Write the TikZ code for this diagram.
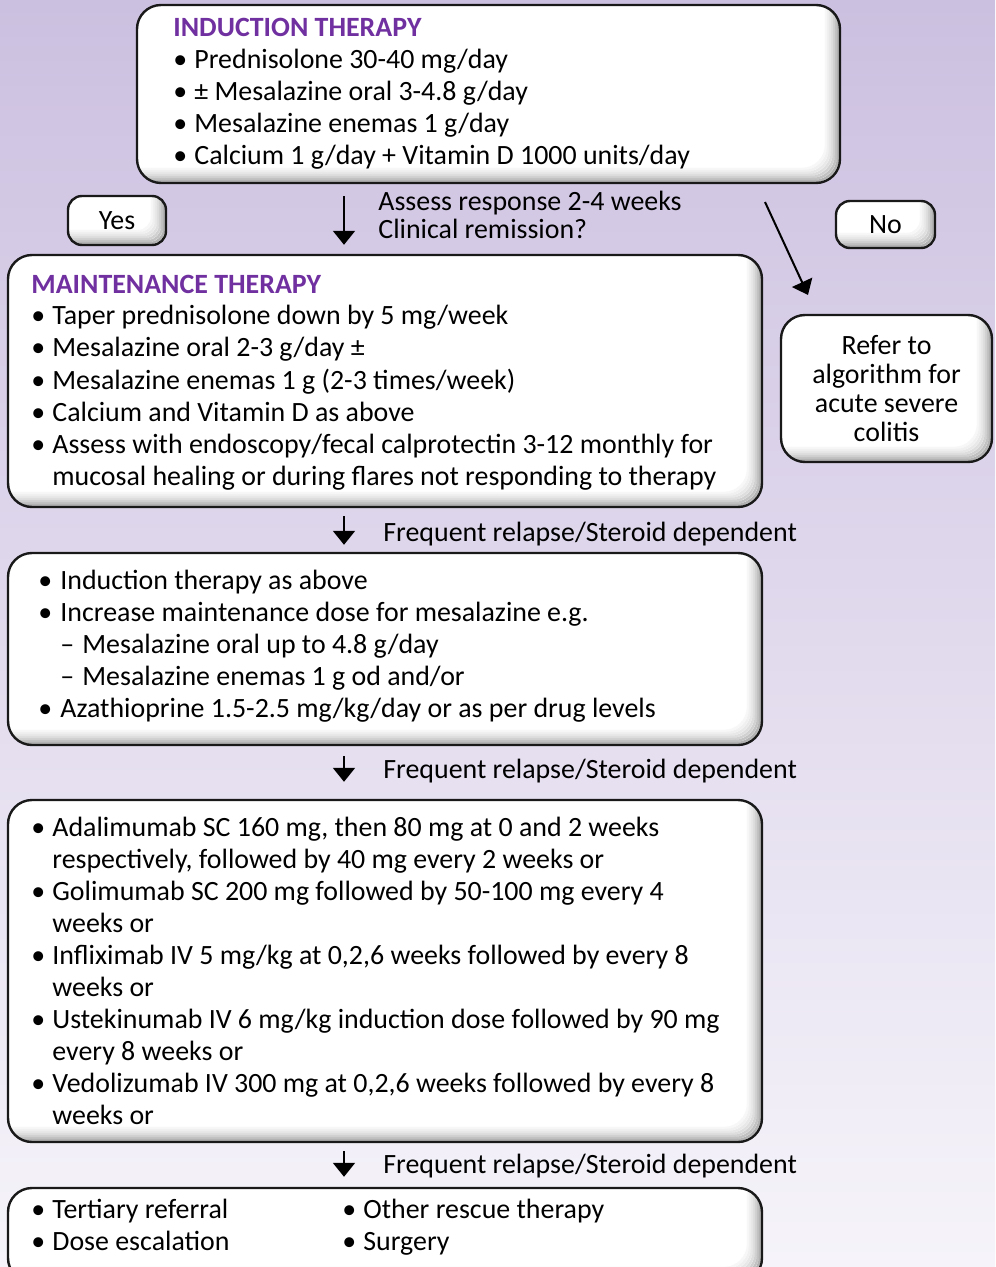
\documentclass[tikz,border=0pt]{standalone}
\usepackage{fontspec}
\setmainfont{Carlito}
\usetikzlibrary{fit,arrows.meta}

\definecolor{headpurple}{RGB}{112,48,160}
\definecolor{bgtop}{RGB}{204,192,224}
\definecolor{bgbottom}{RGB}{246,244,250}
\newcommand{\bul}{\textbullet}
\newcommand{\subdash}{\makebox[11pt][l]{--}}

\begin{document}
\begin{tikzpicture}[x=0.5pt,y=-0.5pt,
  bevel/.style={path picture={
    \foreach \k/\c in {7/3,6/6,5/9,4/13,3/18,2/24,1/30}
      \draw[black!\c,line width=1.2pt]
        ([xshift=-\k pt]path picture bounding box.north east)
        -- ([xshift=-\k pt,yshift=\k pt]path picture bounding box.south east)
        -- ([yshift=\k pt]path picture bounding box.south west);}},
  box/.style={draw=black!90,line width=1.2pt,fill=white,rounded corners=12pt,inner sep=0pt,bevel},
  tag/.style={draw=black!90,line width=1.2pt,fill=white,rounded corners=7pt,inner sep=0pt,bevel,
    font=\fontsize{13.95}{16}\selectfont},
  txt/.style={inner sep=0pt,anchor=base west,font=\fontsize{13.95}{16}\selectfont},
  arr/.style={-{Triangle[length=7pt,width=11pt]},line width=1pt}]
\shade[top color=bgtop,bottom color=bgbottom] (0,0) rectangle (995,1267);
\useasboundingbox (0,0) rectangle (995,1267);
\clip (0,0) rectangle (995,1267);

% boxes
\node[box,fit={(137,5)(840,183)}] (induct) {};
\node[box,fit={(8,255)(762,507)}] (maint) {};
\node[box,fit={(8,553)(762,745)}] (escal) {};
\node[box,fit={(8,800)(762,1142)}] (biolog) {};
\node[box,fit={(8,1188)(762,1282)}] (rescue) {};
\node[tag,minimum width=49pt,minimum height=24.5pt] (yes) at (117,220.5) {Yes};
\node[tag,minimum width=49.5pt,minimum height=23.5pt] (no) at (885.5,224.5) {No};
\node[box,minimum width=105.5pt,minimum height=73.5pt,align=center,
  font=\fontsize{13.95}{14.4}\selectfont] (refer) at (886.5,388.5)
  {Refer to\\algorithm for\\acute severe\\colitis};

% texts
\node[txt] (inducttext) at (173,37) {\begin{tabular}[t]{@{}p{10.5pt}@{}l@{}}
\multicolumn{2}{@{}l@{}}{\textcolor{headpurple}{\textbf{INDUCTION THERAPY}}}\\
\bul & Prednisolone 30-40 mg/day\\
\bul & ± Mesalazine oral 3-4.8 g/day\\
\bul & Mesalazine enemas 1 g/day\\
\bul & Calcium 1 g/day + Vitamin D 1000 units/day
\end{tabular}};
\node[txt,font=\fontsize{13.95}{14}\selectfont] (assess) at (378,211)
  {\begin{tabular}[t]{@{}l@{}}Assess response 2-4 weeks\\Clinical remission?\end{tabular}};
\node[txt] (mainttext) at (31,293) {\begin{tabular}[t]{@{}p{10.5pt}@{}l@{}}
\multicolumn{2}{@{}l@{}}{\textcolor{headpurple}{\textbf{MAINTENANCE THERAPY}}}\\
\bul & Taper prednisolone down by 5 mg/week\\
\bul & Mesalazine oral 2-3 g/day ±\\
\bul & Mesalazine enemas 1 g (2-3 times/week)\\
\bul & Calcium and Vitamin D as above\\
\bul & Assess with endoscopy/fecal calprotectin 3-12 monthly for\\
 & mucosal healing or during flares not responding to therapy
\end{tabular}};
\node[txt] (escaltext) at (38,589) {\begin{tabular}[t]{@{}p{11pt}@{}l@{}}
\bul & Induction therapy as above\\
\bul & Increase maintenance dose for mesalazine e.g.\\
 & \subdash Mesalazine oral up to 4.8 g/day\\
 & \subdash Mesalazine enemas 1 g od and/or\\
\bul & Azathioprine 1.5-2.5 mg/kg/day or as per drug levels
\end{tabular}};
\node[txt] (biologtext) at (31,836) {\begin{tabular}[t]{@{}p{10.5pt}@{}l@{}}
\bul & Adalimumab SC 160 mg, then 80 mg at 0 and 2 weeks\\
 & respectively, followed by 40 mg every 2 weeks or\\
\bul & Golimumab SC 200 mg followed by 50-100 mg every 4\\
 & weeks or\\
\bul & Infliximab IV 5 mg/kg at 0,2,6 weeks followed by every 8\\
 & weeks or\\
\bul & Ustekinumab IV 6 mg/kg induction dose followed by 90 mg\\
 & every 8 weeks or\\
\bul & Vedolizumab IV 300 mg at 0,2,6 weeks followed by every 8\\
 & weeks or
\end{tabular}};
\node[txt] (rescuetext) at (31,1218) {\begin{tabular}[t]{@{}p{10.5pt}@{}l@{}}
\bul & Tertiary referral\\
\bul & Dose escalation
\end{tabular}};
\node[txt] (rescuetext2) at (342,1218) {\begin{tabular}[t]{@{}p{10.5pt}@{}l@{}}
\bul & Other rescue therapy\\
\bul & Surgery
\end{tabular}};
\node[txt] (relapse1) at (383,541) {Frequent relapse/Steroid dependent};
\node[txt] (relapse2) at (383,778) {Frequent relapse/Steroid dependent};
\node[txt] (relapse3) at (383,1173) {Frequent relapse/Steroid dependent};

% arrows
\coordinate (downx) at (344,0);
\coordinate (nostart) at (765,202);
\coordinate (noend) at (808,295);
\draw[arr,shorten <=6pt,shorten >=4.5pt] (induct.south -| downx) -- (maint.north -| downx);
\draw[arr,shorten <=4pt,shorten >=3.5pt] (maint.south -| downx) -- (escal.north -| downx);
\draw[arr,shorten <=5pt,shorten >=8.5pt] (escal.south -| downx) -- (biolog.north -| downx);
\draw[arr,shorten <=4pt,shorten >=5pt] (biolog.south -| downx) -- (rescue.north -| downx);
\draw[arr] (nostart) -- (noend);
\end{tikzpicture}
\end{document}
